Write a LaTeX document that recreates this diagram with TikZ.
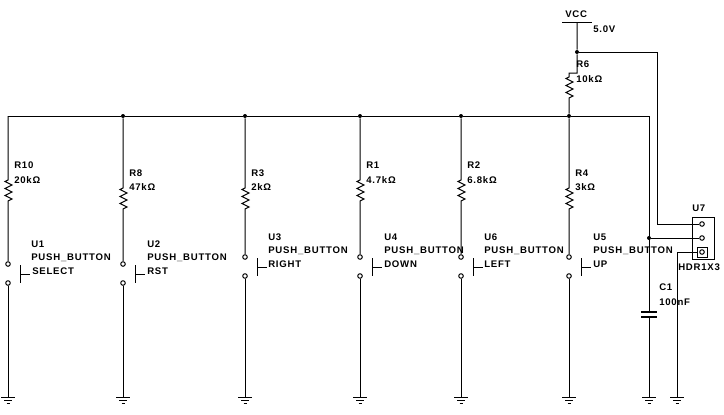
\documentclass[tikz,border=0pt]{standalone}
\usepackage{fontspec}
\setmainfont[LetterSpace=8]{Liberation Sans}
\usepackage{tikz}
\tikzset{
  wire/.style={line width=0.75pt},
  pin/.style={draw, circle, line width=0.75pt, inner sep=0pt, minimum size=3.4pt},
  junction/.style={fill, circle, inner sep=0pt, minimum size=3pt},
  lbl/.style={anchor=west, inner sep=0pt, font=\bfseries\fontsize{7.2pt}{8pt}\selectfont},
  res/.style={to path={-- ++(-3,1.5) -- ++(7,3.5) -- ++(-7,3.5) -- ++(7,3.5) -- ++(-7,3.5) -- ++(7,3.5) -- ++(-4,2) -- (\tikztotarget)}},
  gnd/.pic={\draw[wire] (-7,0) -- (7,0) (-4,3) -- (4,3) (-1.5,6) -- (1.5,6);},
  btn/.pic={\draw[wire] (0,-9) -- (0,9) (0,0) -- (10,0);},
  capplates/.pic={\draw[line width=1.1pt] (-8,0) -- (8,0) (-8,5) -- (8,5);},
}
\begin{document}
\begin{tikzpicture}[x=0.75pt, y=-0.75pt]
  \useasboundingbox (0,0) rectangle (724,414);

  % Bus and supply
  \coordinate (corner) at (8,116);
  \node[junction] (j8) at (123,116) {};
  \node[junction] (j3) at (245,116) {};
  \node[junction] (j1) at (360,116) {};
  \node[junction] (j2) at (461,116) {};
  \node[junction] (j4) at (569,116) {};
  \coordinate (busend) at (649,116);
  \coordinate (vcc) at (577,22);
  \node[junction] (jvcc) at (577,52) {};
  \coordinate (hdrcorner) at (657,52);
  \coordinate (r6top) at (569,77);
  \coordinate (r6kink) at (577,73);
  \coordinate (r6elbow) at (569,73);
  \coordinate (r6bot) at (569,101);

  % Resistor ends
  \coordinate (r10a) at (8,180);
  \coordinate (r10b) at (8,203);
  \coordinate (r8a) at (123,188);
  \coordinate (r8b) at (123,211);
  \coordinate (r3a) at (245,188);
  \coordinate (r3b) at (245,211);
  \coordinate (r1a) at (360,180);
  \coordinate (r1b) at (360,203);
  \coordinate (r2a) at (461,180);
  \coordinate (r2b) at (461,203);
  \coordinate (r4a) at (569,188);
  \coordinate (r4b) at (569,211);

  % Switch pins
  \node[pin] (u1a) at (8,264) {};
  \node[pin] (u1b) at (8,283) {};
  \node[pin] (u2a) at (123,264) {};
  \node[pin] (u2b) at (123,283) {};
  \node[pin] (u3a) at (245,257) {};
  \node[pin] (u3b) at (245,276) {};
  \node[pin] (u4a) at (360,257) {};
  \node[pin] (u4b) at (360,276) {};
  \node[pin] (u6a) at (461,257) {};
  \node[pin] (u6b) at (461,276) {};
  \node[pin] (u5a) at (569,257) {};
  \node[pin] (u5b) at (569,276) {};

  % Grounds
  \coordinate (g1) at (8,397);
  \coordinate (g2) at (123,397);
  \coordinate (g3) at (245,397);
  \coordinate (g4) at (360,397);
  \coordinate (g6) at (461,397);
  \coordinate (g5) at (569,397);
  \coordinate (gc) at (649,397);
  \coordinate (gh) at (677,397);
  \foreach \g in {g1,g2,g3,g4,g6,g5,gc,gh} \pic at (\g) {gnd};

  % Buttons
  \pic at (20,274) {btn};
  \pic at (135,274) {btn};
  \pic at (257,267) {btn};
  \pic at (372,267) {btn};
  \pic at (473,267) {btn};
  \pic at (581,267) {btn};

  % Capacitor and header
  \coordinate (c1a) at (649,312);
  \coordinate (c1b) at (649,317);
  \pic at (c1a) {capplates};
  \node[junction] (jc) at (649,238) {};
  \node[draw, wire, minimum width=16.5pt, minimum height=31.5pt, inner sep=0pt] (u7) at (703,238) {};
  \node[pin] (p1) at (702,224) {};
  \node[pin] (p2) at (702,238) {};
  \node[pin] (p3) at (702,252) {};
  \node[draw, wire, minimum size=7.5pt, inner sep=0pt] (p3box) at (702,252) {};
  \coordinate (hdrin) at (657,224);
  \coordinate (gndelbow) at (677,252);

  % Edges
  \draw[wire] (corner) -- (j8) -- (j3) -- (j1) -- (j2) -- (j4) -- (busend) -- (c1a);
  \draw[wire] (vcc) ++(-15,0) -- ++(30,0);
  \draw[wire] (vcc) -- (jvcc) -- (r6kink) -- (r6elbow) -- (r6top) to[res] (r6bot) -- (j4);
  \draw[wire] (jvcc) -- (hdrcorner) -- (hdrin) -- (p1);
  \draw[wire] (jc) -- (p2);
  \draw[wire] (p3box) -- (gndelbow) -- (gh);
  \draw[wire] (c1b) -- (gc);
  \draw[wire] (corner) -- (r10a) to[res] (r10b) -- (u1a);
  \draw[wire] (j8) -- (r8a) to[res] (r8b) -- (u2a);
  \draw[wire] (j3) -- (r3a) to[res] (r3b) -- (u3a);
  \draw[wire] (j1) -- (r1a) to[res] (r1b) -- (u4a);
  \draw[wire] (j2) -- (r2a) to[res] (r2b) -- (u6a);
  \draw[wire] (j4) -- (r4a) to[res] (r4b) -- (u5a);
  \draw[wire] (u1b) -- (g1);
  \draw[wire] (u2b) -- (g2);
  \draw[wire] (u3b) -- (g3);
  \draw[wire] (u4b) -- (g4);
  \draw[wire] (u6b) -- (g6);
  \draw[wire] (u5b) -- (g5);

  % Labels
  \node[lbl] (tvcc) at (565,14) {VCC};
  \node[lbl] (tv) at (593,29) {5.0V};
  \node[lbl] (tr6) at (576,64) {R6};
  \node[lbl] (tr6v) at (576,79) {10kΩ};
  \node[lbl] (tr10) at (14,165) {R10};
  \node[lbl] (tr10v) at (14,180) {20kΩ};
  \node[lbl] (tr8) at (129,173) {R8};
  \node[lbl] (tr8v) at (129,187) {47kΩ};
  \node[lbl] (tr3) at (251,173) {R3};
  \node[lbl] (tr3v) at (251,187) {2kΩ};
  \node[lbl] (tr1) at (366,165) {R1};
  \node[lbl] (tr1v) at (366,180) {4.7kΩ};
  \node[lbl] (tr2) at (467,165) {R2};
  \node[lbl] (tr2v) at (467,180) {6.8kΩ};
  \node[lbl] (tr4) at (575,173) {R4};
  \node[lbl] (tr4v) at (575,187) {3kΩ};
  \node[lbl] (tu1) at (31,244) {U1};
  \node[lbl] (tu1p) at (31,258) {PUSH\_BUTTON};
  \node[lbl] (tu1n) at (32,271) {SELECT};
  \node[lbl] (tu2) at (147,244) {U2};
  \node[lbl] (tu2p) at (147,258) {PUSH\_BUTTON};
  \node[lbl] (tu2n) at (147,271) {RST};
  \node[lbl] (tu3) at (268,237) {U3};
  \node[lbl] (tu3p) at (268,251) {PUSH\_BUTTON};
  \node[lbl] (tu3n) at (268,264) {RIGHT};
  \node[lbl] (tu4) at (384,237) {U4};
  \node[lbl] (tu4p) at (384,251) {PUSH\_BUTTON};
  \node[lbl] (tu4n) at (384,264) {DOWN};
  \node[lbl] (tu6) at (484,237) {U6};
  \node[lbl] (tu6p) at (484,251) {PUSH\_BUTTON};
  \node[lbl] (tu6n) at (484,264) {LEFT};
  \node[lbl] (tu5) at (593,237) {U5};
  \node[lbl] (tu5p) at (593,251) {PUSH\_BUTTON};
  \node[lbl] (tu5n) at (593,264) {UP};
  \node[lbl] (tc1) at (659,287) {C1};
  \node[lbl] (tc1v) at (659,302) {100nF};
  \node[lbl] (tu7) at (692,208) {U7};
  \node[lbl] (thdr) at (678,267) {HDR1X3};
\end{tikzpicture}
\end{document}
